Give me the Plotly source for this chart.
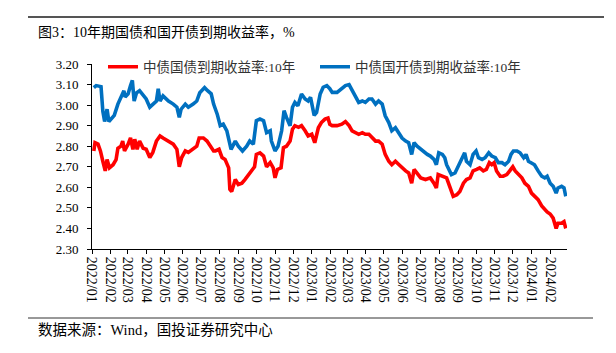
import plotly.graph_objects as go

# ---------------- data ----------------
cgb_dates = [
    "2022-01-04", "2022-01-06", "2022-01-11", "2022-01-15", "2022-01-19", "2022-01-23", "2022-01-26", "2022-01-30",
    "2022-02-05", "2022-02-10", "2022-02-13", "2022-02-18", "2022-02-21", "2022-02-24", "2022-03-02", "2022-03-06",
    "2022-03-10", "2022-03-13", "2022-03-17", "2022-03-21", "2022-03-27", "2022-04-01", "2022-04-07", "2022-04-12",
    "2022-04-18", "2022-04-24", "2022-04-29", "2022-05-08", "2022-05-16", "2022-05-22", "2022-05-26", "2022-05-30",
    "2022-06-05", "2022-06-10", "2022-06-18", "2022-06-24", "2022-06-28", "2022-07-05", "2022-07-11", "2022-07-16",
    "2022-07-22", "2022-07-25", "2022-07-31", "2022-08-05", "2022-08-10", "2022-08-16", "2022-08-18", "2022-08-21",
    "2022-08-27", "2022-09-01", "2022-09-07", "2022-09-12", "2022-09-18", "2022-09-23", "2022-09-28", "2022-10-01",
    "2022-10-07", "2022-10-13", "2022-10-18", "2022-10-24", "2022-10-29", "2022-11-01", "2022-11-05", "2022-11-11",
    "2022-11-15", "2022-11-20", "2022-11-26", "2022-11-30", "2022-12-04", "2022-12-10", "2022-12-15", "2022-12-21",
    "2022-12-26", "2023-01-01", "2023-01-06", "2023-01-12", "2023-01-17", "2023-01-23", "2023-01-28", "2023-01-31",
    "2023-02-04", "2023-02-12", "2023-02-20", "2023-02-26", "2023-03-04", "2023-03-09", "2023-03-15", "2023-03-20",
    "2023-03-26", "2023-03-31", "2023-04-06", "2023-04-11", "2023-04-17", "2023-04-22", "2023-04-28", "2023-05-03",
    "2023-05-09", "2023-05-14", "2023-05-20", "2023-05-26", "2023-05-31", "2023-06-06", "2023-06-11", "2023-06-16",
    "2023-06-20", "2023-06-25", "2023-07-01", "2023-07-09", "2023-07-17", "2023-07-23", "2023-07-27", "2023-07-30",
    "2023-08-06", "2023-08-13", "2023-08-19", "2023-08-24", "2023-08-30", "2023-09-04", "2023-09-10", "2023-09-15",
    "2023-09-21", "2023-09-26", "2023-10-02", "2023-10-07", "2023-10-13", "2023-10-18", "2023-10-23", "2023-10-27",
    "2023-10-31", "2023-11-04", "2023-11-10", "2023-11-15", "2023-11-21", "2023-11-26", "2023-12-01", "2023-12-05",
    "2023-12-10", "2023-12-16", "2023-12-21", "2023-12-27", "2024-01-01", "2024-01-06", "2024-01-12", "2024-01-18",
    "2024-01-23", "2024-01-27", "2024-02-01", "2024-02-06", "2024-02-11", "2024-02-14", "2024-02-20", "2024-02-24",
    "2024-02-27",
]
cgb_10y = [
    2.777, 2.817, 2.81, 2.777, 2.727, 2.68, 2.735, 2.695,
    2.71, 2.735, 2.79, 2.80, 2.825, 2.777, 2.81, 2.84,
    2.785, 2.834, 2.785, 2.825, 2.79, 2.785, 2.745, 2.77,
    2.825, 2.85, 2.84, 2.825, 2.81, 2.785, 2.70, 2.745,
    2.777, 2.77, 2.785, 2.80, 2.84, 2.84, 2.825, 2.80,
    2.777, 2.777, 2.785, 2.745, 2.736, 2.695, 2.59, 2.58,
    2.638, 2.614, 2.62, 2.638, 2.662, 2.68, 2.70, 2.76,
    2.768, 2.752, 2.70, 2.72, 2.695, 2.646, 2.687, 2.695,
    2.793, 2.80, 2.825, 2.883, 2.90, 2.892, 2.90, 2.875,
    2.85, 2.858, 2.817, 2.89, 2.915, 2.932, 2.937, 2.907,
    2.90, 2.90, 2.907, 2.92, 2.90, 2.875, 2.866, 2.858,
    2.866, 2.858, 2.858, 2.84, 2.825, 2.825, 2.81, 2.76,
    2.727, 2.71, 2.727, 2.71, 2.695, 2.68, 2.67, 2.62,
    2.687, 2.67, 2.646, 2.638, 2.646, 2.62, 2.597, 2.662,
    2.654, 2.646, 2.597, 2.556, 2.564, 2.58, 2.62, 2.638,
    2.646, 2.68, 2.687, 2.695, 2.68, 2.687, 2.72, 2.71,
    2.72, 2.68, 2.654, 2.654, 2.662, 2.68, 2.70, 2.68,
    2.662, 2.646, 2.62, 2.605, 2.572, 2.556, 2.54, 2.51,
    2.49, 2.48, 2.47, 2.45, 2.40, 2.425, 2.425, 2.433,
    2.40,
]

cdb_dates = [
    "2022-01-04", "2022-01-08", "2022-01-16", "2022-01-19", "2022-01-22", "2022-01-26", "2022-01-29", "2022-02-07",
    "2022-02-13", "2022-02-18", "2022-02-23", "2022-02-25", "2022-03-02", "2022-03-06", "2022-03-09", "2022-03-12",
    "2022-03-16", "2022-03-21", "2022-03-27", "2022-04-01", "2022-04-07", "2022-04-12", "2022-04-18", "2022-04-21",
    "2022-04-24", "2022-04-29", "2022-05-08", "2022-05-16", "2022-05-22", "2022-05-26", "2022-05-29", "2022-06-05",
    "2022-06-10", "2022-06-18", "2022-06-24", "2022-06-29", "2022-07-07", "2022-07-12", "2022-07-18", "2022-07-22",
    "2022-07-28", "2022-08-02", "2022-08-07", "2022-08-13", "2022-08-17", "2022-08-20", "2022-08-27", "2022-09-01",
    "2022-09-08", "2022-09-15", "2022-09-20", "2022-09-26", "2022-10-01", "2022-10-07", "2022-10-13", "2022-10-18",
    "2022-10-24", "2022-10-26", "2022-11-01", "2022-11-06", "2022-11-12", "2022-11-16", "2022-11-20", "2022-11-26",
    "2022-11-30", "2022-12-04", "2022-12-09", "2022-12-15", "2022-12-21", "2022-12-26", "2022-12-30", "2023-01-05",
    "2023-01-09", "2023-01-15", "2023-01-20", "2023-01-26", "2023-01-31", "2023-02-04", "2023-02-12", "2023-02-20",
    "2023-02-26", "2023-03-04", "2023-03-09", "2023-03-15", "2023-03-20", "2023-03-26", "2023-03-31", "2023-04-06",
    "2023-04-11", "2023-04-17", "2023-04-22", "2023-04-28", "2023-05-03", "2023-05-09", "2023-05-14", "2023-05-20",
    "2023-05-26", "2023-05-31", "2023-06-06", "2023-06-11", "2023-06-16", "2023-06-20", "2023-06-25", "2023-07-01",
    "2023-07-06", "2023-07-12", "2023-07-17", "2023-07-23", "2023-07-27", "2023-07-31", "2023-08-06", "2023-08-10",
    "2023-08-13", "2023-08-21", "2023-08-27", "2023-09-01", "2023-09-07", "2023-09-12", "2023-09-15", "2023-09-21",
    "2023-09-26", "2023-10-01", "2023-10-05", "2023-10-11", "2023-10-16", "2023-10-22", "2023-10-27", "2023-11-02",
    "2023-11-07", "2023-11-13", "2023-11-18", "2023-11-24", "2023-11-28", "2023-12-02", "2023-12-08", "2023-12-13",
    "2023-12-19", "2023-12-23", "2023-12-27", "2024-01-01", "2024-01-06", "2024-01-12", "2024-01-18", "2024-01-23",
    "2024-01-27", "2024-02-01", "2024-02-06", "2024-02-11", "2024-02-14", "2024-02-20", "2024-02-24", "2024-02-27",
]
cdb_10y = [
    3.085, 3.095, 3.09, 2.97, 2.92, 2.98, 2.92, 2.95,
    3.005, 3.04, 3.07, 3.04, 3.055, 3.095, 3.12, 3.02,
    3.06, 3.07, 3.045, 3.03, 2.99, 3.005, 3.02, 3.08,
    3.02, 3.045, 3.02, 3.005, 2.99, 2.94, 2.98, 3.005,
    2.99, 3.005, 3.02, 3.06, 3.085, 3.07, 3.055, 3.005,
    2.956, 2.90, 2.907, 2.875, 2.825, 2.785, 2.825, 2.80,
    2.777, 2.80, 2.825, 2.81, 2.924, 2.932, 2.924, 2.866,
    2.875, 2.825, 2.777, 2.80, 2.875, 2.973, 2.94, 2.90,
    2.99, 3.013, 2.997, 3.054, 3.03, 3.02, 3.038, 2.95,
    2.964, 3.054, 3.087, 3.095, 3.08, 3.062, 3.062, 3.08,
    3.095, 3.10, 3.07, 3.038, 3.013, 3.02, 3.013, 3.03,
    3.03, 3.005, 3.02, 3.005, 2.948, 2.915, 2.875, 2.89,
    2.866, 2.84, 2.825, 2.817, 2.76, 2.817, 2.80, 2.785,
    2.777, 2.76, 2.752, 2.736, 2.71, 2.768, 2.76, 2.744,
    2.71, 2.662, 2.67, 2.70, 2.744, 2.768, 2.727, 2.71,
    2.76, 2.777, 2.744, 2.736, 2.744, 2.768, 2.752, 2.744,
    2.72, 2.72, 2.71, 2.727, 2.76, 2.777, 2.777, 2.768,
    2.744, 2.76, 2.727, 2.72, 2.71, 2.68, 2.654, 2.646,
    2.654, 2.62, 2.605, 2.572, 2.597, 2.605, 2.597, 2.556,
]

series_names = ["中债国债到期收益率:10年", "中债国开债到期收益率:10年"]
series_colors = ["#FF0000", "#0070C0"]
y_ticks = [2.30, 2.40, 2.50, 2.60, 2.70, 2.80, 2.90, 3.00, 3.10, 3.20]
x_range = ["2022-01-01", "2024-02-29"]
title_text = "图3：10年期国债和国开债到期收益率，%"
source_text = "数据来源：Wind，国投证券研究中心"

FONT = "Liberation Serif, Times New Roman, Noto Sans CJK SC, serif"

fig = go.Figure()
fig.add_trace(go.Scatter(x=cgb_dates, y=cgb_10y, mode="lines", name=series_names[0],
                         line=dict(color=series_colors[0], width=3.6)))
fig.add_trace(go.Scatter(x=cdb_dates, y=cdb_10y, mode="lines", name=series_names[1],
                         line=dict(color=series_colors[1], width=3.6)))

W, H = 616, 353
L, R, T, B = 92, 49, 64, 104
pw, ph = W - L - R, H - T - B

def px_x(x):
    return (x - L) / pw

def px_y(y):
    return (H - B - y) / ph

fig.update_layout(
    width=W, height=H,
    margin=dict(l=L, r=R, t=T, b=B),
    paper_bgcolor="white", plot_bgcolor="white",
    font=dict(family=FONT, size=13, color="#000000"),
    showlegend=True,
    legend=dict(orientation="h", x=px_x(103), y=px_y(67), xanchor="left", yanchor="middle",
                font=dict(size=13.5, color="#333333"), bgcolor="rgba(0,0,0,0)",
                itemwidth=30, entrywidth=167, entrywidthmode="pixels", tracegroupgap=0),
    xaxis=dict(type="date", range=x_range, dtick="M1", tick0="2022-01-01", tickformat="%Y/%m",
               tickangle=90, ticks="outside", ticklen=4, tickcolor="#000", showgrid=False,
               showline=True, linecolor="#000", linewidth=1, zeroline=False,
               tickfont=dict(size=14, family=FONT)),
    yaxis=dict(range=[2.30, 3.20], tickvals=y_ticks, tickformat=".2f",
               ticks="outside", ticklen=4, tickcolor="#000", showgrid=False,
               showline=True, linecolor="#000", linewidth=1, zeroline=False,
               ticklabelstandoff=6, tickfont=dict(size=13, family=FONT)),
)

fig.add_annotation(text=title_text, xref="paper", yref="paper", x=px_x(36), y=px_y(32),
                   xanchor="left", yanchor="middle", showarrow=False,
                   font=dict(size=14, family=FONT, color="#000"))
fig.add_annotation(text=source_text, xref="paper", yref="paper", x=px_x(36), y=px_y(330),
                   xanchor="left", yanchor="middle", showarrow=False,
                   font=dict(size=14.5, family=FONT, color="#000"))
fig.add_shape(type="line", xref="paper", yref="paper", x0=px_x(28), x1=px_x(604),
              y0=px_y(17), y1=px_y(17), line=dict(color="#555555", width=2))
fig.add_shape(type="line", xref="paper", yref="paper", x0=px_x(28), x1=px_x(593),
              y0=px_y(318), y1=px_y(318), line=dict(color="#333333", width=1))

fig.write_html("out.html")
